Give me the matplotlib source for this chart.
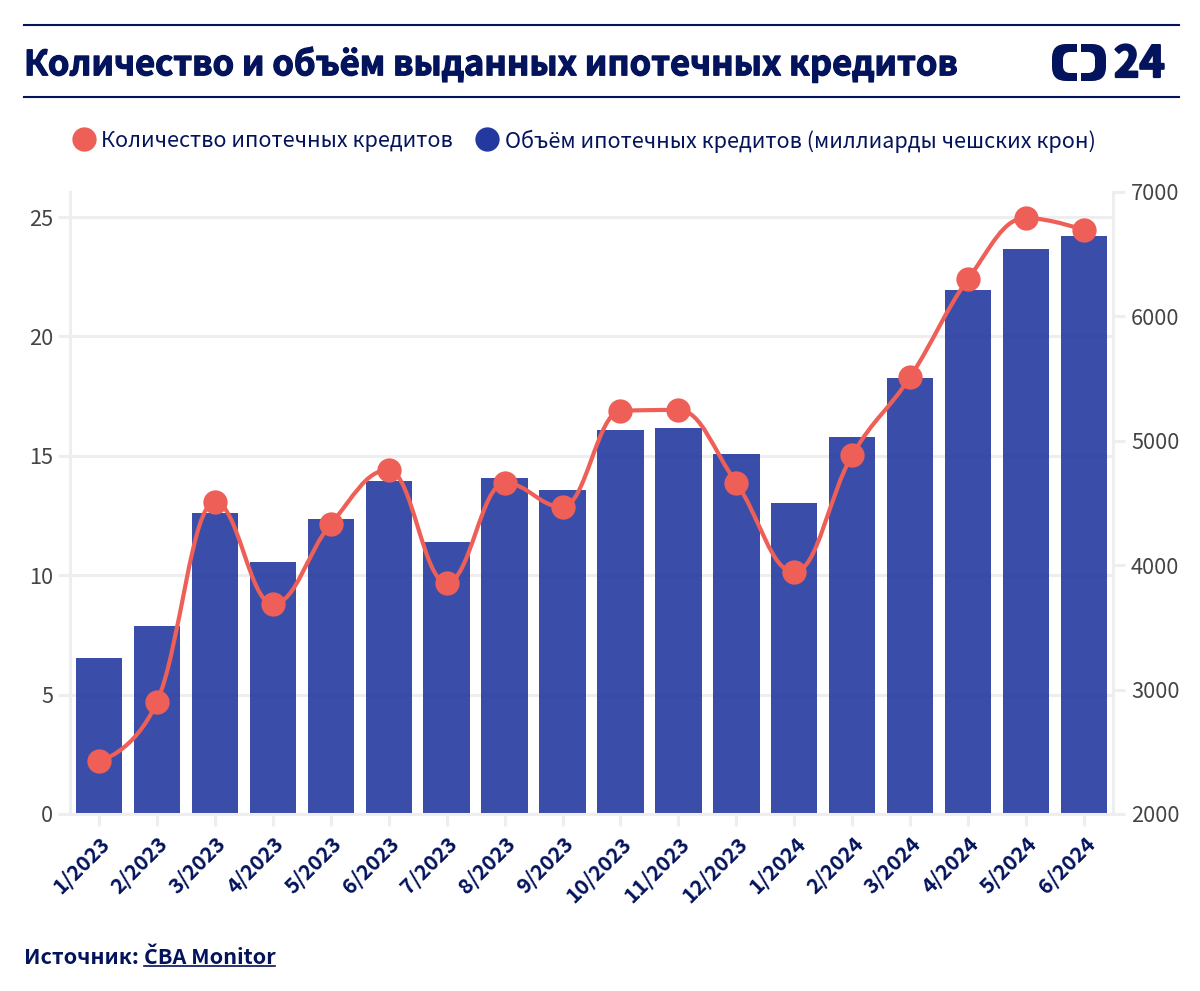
import matplotlib
matplotlib.use("Agg")
import matplotlib.pyplot as plt
import matplotlib.patheffects as pe
from matplotlib.path import Path
from matplotlib.patches import PathPatch

# CJK family has the Source Sans style latin and cyrillic; Open Sans only for the Č
plt.rcParams['font.family'] = ['Noto Sans CJK SC', 'Open Sans']

NAVY = '#03135c'
GRID = '#eeeeee'
RED = '#ee5f58'
BLUE = '#2439a0'
TICK_GREY = '#444444'

months = ['1/2023', '2/2023', '3/2023', '4/2023', '5/2023', '6/2023', '7/2023', '8/2023', '9/2023',
          '10/2023', '11/2023', '12/2023', '1/2024', '2/2024', '3/2024', '4/2024', '5/2024', '6/2024']
volume = [6.53, 7.87, 12.6, 10.55, 12.35, 13.95, 11.4, 14.07, 13.57,
          16.08, 16.16, 15.07, 13.02, 15.79, 18.26, 21.94, 23.66, 24.2]
count = [2426, 2900, 4508, 3688, 4331, 4765, 3857, 4661, 4468,
         5240, 5248, 4661, 3945, 4886, 5513, 6301, 6791, 6695]
left_ticks = [0, 5, 10, 15, 20, 25]
right_ticks = [2000, 3000, 4000, 5000, 6000, 7000]


def spline_path(xs, ys, smoothing=1.5):
    # same control points a Highcharts spline uses
    denom = smoothing + 1
    verts = [(xs[0], ys[0])]
    codes = [Path.MOVETO]
    left = [None] * len(xs)
    right = [None] * len(xs)
    for i in range(1, len(xs) - 1):
        x, y = xs[i], ys[i]
        lx = (smoothing * x + xs[i - 1]) / denom
        ly = (smoothing * y + ys[i - 1]) / denom
        rx = (smoothing * x + xs[i + 1]) / denom
        ry = (smoothing * y + ys[i + 1]) / denom
        corr = (ry - ly) * (rx - x) / (rx - lx) + y - ry
        ly += corr
        ry += corr
        if ly > ys[i - 1] and ly > y:
            ly = max(ys[i - 1], y)
            ry = 2 * y - ly
        elif ly < ys[i - 1] and ly < y:
            ly = min(ys[i - 1], y)
            ry = 2 * y - ly
        if ry > ys[i + 1] and ry > y:
            ry = max(ys[i + 1], y)
            ly = 2 * y - ry
        elif ry < ys[i + 1] and ry < y:
            ry = min(ys[i + 1], y)
            ly = 2 * y - ry
        left[i] = (lx, ly)
        right[i] = (rx, ry)
    for i in range(1, len(xs)):
        c1 = right[i - 1] if right[i - 1] else (xs[i - 1], ys[i - 1])
        c2 = left[i] if left[i] else (xs[i], ys[i])
        verts += [c1, c2, (xs[i], ys[i])]
        codes += [Path.CURVE4] * 3
    return Path(verts, codes)


W, H = 1200, 991
fig = plt.figure(figsize=(W / 100, H / 100), dpi=100, facecolor='white')

# plot area in pixels: x 70-1113, y 192-814
ax = fig.add_axes([70 / W, 1 - 814 / H, (1113 - 70) / W, (814 - 192) / H])
x = list(range(len(months)))
ax.bar(x, volume, width=0.8, color=BLUE, alpha=0.9, zorder=2)
ax.set_xlim(-0.5, 17.5)
ax.set_ylim(0, 26.05)
ax.set_yticks(left_ticks)
ax.set_xticks(x)
ax.set_xticklabels(months, rotation=45, ha='right', rotation_mode='anchor',
                   fontsize=15.2, fontweight='bold', color=NAVY)
ax.grid(axis='y', color=GRID, linewidth=2.2, zorder=0)
ax.set_axisbelow(True)
ax.tick_params(axis='y', length=8.5, width=2.2, color=GRID, labelsize=15.7, labelcolor=TICK_GREY, pad=3.5)
ax.tick_params(axis='x', length=8.5, width=2.2, color=GRID, pad=5)
for name in ['top', 'right']:
    ax.spines[name].set_visible(False)
for name in ['left', 'bottom']:
    ax.spines[name].set_color(GRID)
    ax.spines[name].set_linewidth(2.2)

ax2 = ax.twinx()
ax2.set_ylim(2000, 7000)
ax2.set_yticks(right_ticks)
ax2.tick_params(axis='y', length=8.5, width=2.2, color=GRID, labelsize=15.7, labelcolor=TICK_GREY, pad=4.5)
for name in ['top', 'left', 'bottom']:
    ax2.spines[name].set_visible(False)
ax2.spines['right'].set_color(GRID)
ax2.spines['right'].set_linewidth(2.2)
ax2.add_patch(PathPatch(spline_path(x, count), fill=False, edgecolor=RED, linewidth=3, zorder=3))
ax2.plot(x, count, linestyle='none', marker='o', markersize=17.5, color=RED,
         markeredgewidth=0, zorder=4, clip_on=False)

# header, legend and footer sit on an overlay in pixel coordinates
over = fig.add_axes([0, 0, 1, 1], facecolor='none')
over.set_xlim(0, W)
over.set_ylim(H, 0)
over.axis('off')

over.plot([24, 1179], [25, 25], color=NAVY, linewidth=1.5)
over.plot([24, 1179], [97, 97], color=NAVY, linewidth=1.5)
heavy = [pe.withStroke(linewidth=0.9, foreground=NAVY)]
over.text(24, 64, 'Количество и объём выданных ипотечных кредитов', fontsize=24.8, fontweight='bold',
          color=NAVY, va='center', ha='left', path_effects=heavy)

# logo: two bracket halves and the number
bracket = [(1077, 44), (1066, 44), (1052, 44), (1052, 58), (1052, 67), (1052, 81), (1066, 81), (1077, 81),
           (1077, 73), (1070, 73), (1063, 73), (1063, 66), (1063, 59), (1063, 52), (1070, 52), (1077, 52), (1077, 44)]
bracket_codes = [Path.MOVETO, Path.LINETO, Path.CURVE3, Path.CURVE3, Path.LINETO, Path.CURVE3, Path.CURVE3, Path.LINETO,
                 Path.LINETO, Path.LINETO, Path.CURVE3, Path.CURVE3, Path.LINETO, Path.CURVE3, Path.CURVE3, Path.LINETO, Path.CLOSEPOLY]
over.add_patch(PathPatch(Path(bracket, bracket_codes), facecolor=NAVY, edgecolor='none'))
mirrored = [(2158 - px, py) for px, py in bracket]
over.add_patch(PathPatch(Path(mirrored, bracket_codes), facecolor=NAVY, edgecolor='none'))
over.text(1114, 64, '24', fontsize=31, fontweight='bold', color=NAVY, va='center', ha='left',
          path_effects=[pe.withStroke(linewidth=1.6, foreground=NAVY)])

# legend
over.plot([84], [139], marker='o', markersize=17.5, color=RED, markeredgewidth=0)
over.text(101, 141, 'Количество ипотечных кредитов', fontsize=15.55, color=NAVY, va='center', ha='left')
over.plot([487], [139], marker='o', markersize=17.5, color=BLUE, markeredgewidth=0)
over.text(505, 141, 'Объём ипотечных кредитов (миллиарды чешских крон)', fontsize=15.55, color=NAVY,
          va='center', ha='left')

# source line
over.text(24, 957, 'Источник:', fontsize=15.5, fontweight='bold', color=NAVY, va='center', ha='left')
over.text(144, 957, 'ČBA Monitor', fontsize=15.5, fontweight='bold', color=NAVY, va='center', ha='left')
over.plot([144, 275], [965.5, 965.5], color=NAVY, linewidth=1.2)

fig.savefig('out.png', dpi=100, facecolor='white')
